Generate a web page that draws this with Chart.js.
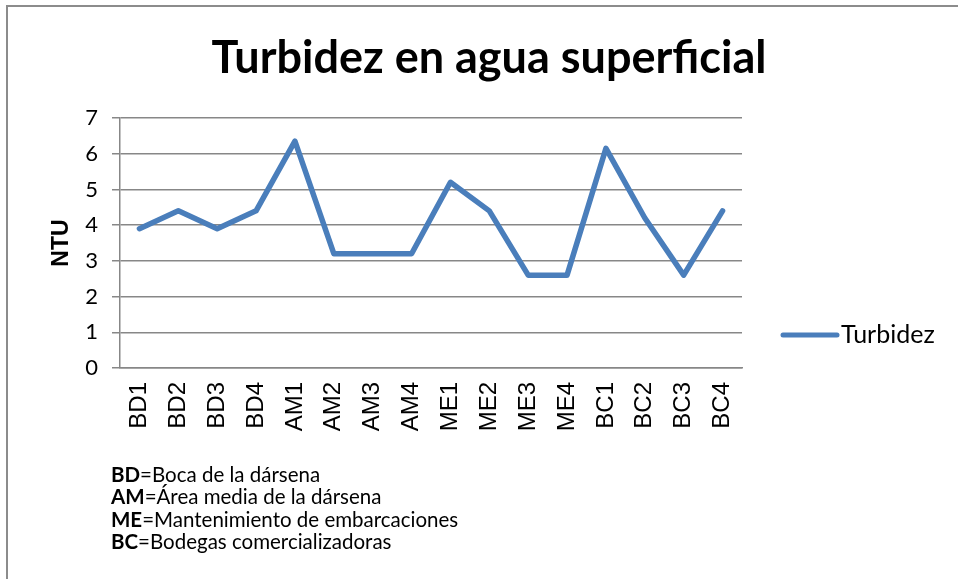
<!DOCTYPE html>
<html>
<head>
<meta charset="utf-8">
<script src="https://cdn.jsdelivr.net/npm/chart.js@4"></script>
<style>
  html, body { margin: 0; padding: 0; background: #fff; }
  #wrap { position: relative; width: 958px; height: 579px; overflow: hidden; }
  #frame { position: absolute; left: 6px; top: 5px; right: -10px; bottom: -10px;
           border-top: 2px solid #8c8c8c; border-left: 2px solid #8c8c8c; }
  canvas { position: absolute; left: 0; top: 0; }
  #notes { position: absolute; left: 111px; top: 463px; font-family: Lato, "Open Sans", sans-serif;
           font-size: 20.5px; line-height: 22.3px; color: #000; }
  #notes b { font-weight: bold; }
</style>
</head>
<body>
<div id="wrap">
  <div id="frame"></div>
  <canvas id="c" width="958" height="579"></canvas>
  <div id="notes">
    <div><b>BD</b>=Boca de la dársena</div>
    <div><b>AM</b>=Área media de la dársena</div>
    <div><b>ME</b>=Mantenimiento de embarcaciones</div>
    <div><b>BC</b>=Bodegas comercializadoras</div>
  </div>
</div>
<script>
const categories = ['BD1','BD2','BD3','BD4','AM1','AM2','AM3','AM4','ME1','ME2','ME3','ME4','BC1','BC2','BC3','BC4'];
const turbidez = [3.9, 4.4, 3.9, 4.4, 6.35, 3.2, 3.2, 3.2, 5.2, 4.4, 2.6, 2.6, 6.15, 4.2, 2.6, 4.4];
const yTicks = [0, 1, 2, 3, 4, 5, 6, 7];
const seriesName = 'Turbidez';
const chartTitle = 'Turbidez en agua superficial';
const yTitle = 'NTU';

const lineColor = '#4A7EBB';
const gridColor = '#878787';

const decorPlugin = {
  id: 'decor',
  afterDraw(chart) {
    const ctx = chart.ctx;
    const area = chart.chartArea;
    ctx.save();
    // title
    ctx.fillStyle = '#000';
    ctx.font = 'bold 45px Lato, "Open Sans", sans-serif';
    ctx.textAlign = 'center';
    ctx.textBaseline = 'middle';
    ctx.fillText(chartTitle, 489, 58);
    // legend
    const y = area.top + 217;
    const x0 = area.right + 41;
    ctx.strokeStyle = lineColor;
    ctx.lineWidth = 5;
    ctx.lineCap = 'round';
    ctx.beginPath();
    ctx.moveTo(x0, y);
    ctx.lineTo(x0 + 54, y);
    ctx.stroke();
    ctx.font = '25px Lato, "Open Sans", sans-serif';
    ctx.textAlign = 'left';
    ctx.fillText(chart.data.datasets[0].label, x0 + 58, y);
    ctx.restore();
  }
};

new Chart(document.getElementById('c'), {
  type: 'line',
  data: {
    labels: categories,
    datasets: [{
      label: seriesName,
      data: turbidez,
      borderColor: lineColor,
      backgroundColor: lineColor,
      borderWidth: 5.5,
      pointRadius: 0,
      pointHoverRadius: 0,
      tension: 0,
      borderJoinStyle: 'round',
      borderCapStyle: 'round',
      fill: false
    }]
  },
  options: {
    responsive: false,
    animation: false,
    devicePixelRatio: 1,
    layout: { padding: { left: 0, right: 216, top: 118, bottom: 0 } },
    plugins: {
      legend: { display: false },
      tooltip: { enabled: false },
      title: { display: false }
    },
    scales: {
      x: {
        type: 'category',
        offset: true,
        grid: { display: false },
        border: { display: true, color: gridColor, width: 1.5 },
        ticks: {
          color: '#000',
          font: { family: '"Liberation Sans", Arial, sans-serif', size: 24 },
          maxRotation: 90,
          minRotation: 90,
          autoSkip: false,
          padding: 6
        },
        afterFit(scale) { scale.height = 579 - 368; }
      },
      y: {
        min: 0,
        max: 7,
        afterBuildTicks(scale) { scale.ticks = yTicks.map(v => ({ value: v })); },
        grid: { color: gridColor, lineWidth: 1.5, tickLength: 8, drawTicks: true },
        border: { display: true, color: gridColor, width: 1.5 },
        ticks: {
          color: '#000',
          font: { family: 'Lato, "Open Sans", sans-serif', size: 22 },
          padding: 14
        },
        title: {
          display: true,
          text: yTitle,
          color: '#000',
          font: { family: '"Liberation Sans", Arial, sans-serif', size: 23, weight: 'bold', lineHeight: 1.2 },
          padding: { top: 48, bottom: 0 }
        },
        afterFit(scale) { scale.width = 120; }
      }
    }
  },
  plugins: [decorPlugin]
});
</script>
</body>
</html>
